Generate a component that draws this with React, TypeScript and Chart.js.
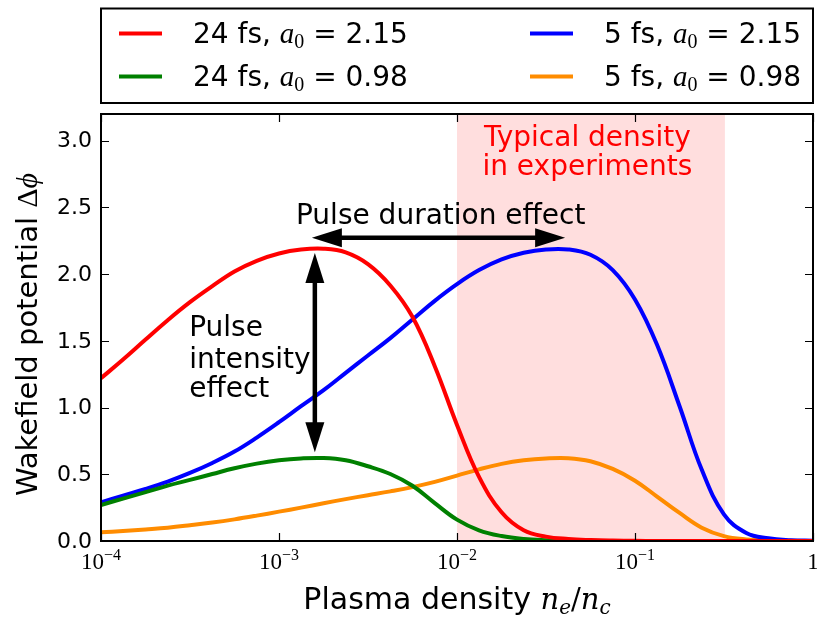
import React, { useEffect, useRef } from "react";
import { Chart, registerables } from "chart.js";

Chart.register(...registerables);

// ---------- data ----------
const densities = [
  1.0e-4, 1.33e-4, 1.78e-4, 2.37e-4, 3.16e-4, 4.22e-4, 5.62e-4, 7.5e-4,
  1.0e-3, 1.33e-3, 1.78e-3, 2.37e-3, 3.16e-3, 4.22e-3, 5.62e-3, 7.5e-3,
  1.0e-2, 1.33e-2, 1.78e-2, 2.37e-2, 3.16e-2, 4.22e-2, 5.62e-2, 7.5e-2,
  0.1, 0.133, 0.178, 0.237, 0.316, 0.422, 0.562, 0.75, 1.0,
];

const red24High = [
  1.22, 1.36, 1.51, 1.655, 1.79, 1.91, 2.02, 2.1,
  2.155, 2.184, 2.19, 2.163, 2.075, 1.915, 1.68, 1.31,
  0.87, 0.48, 0.215, 0.08, 0.033, 0.015, 0.007, 0.003,
  0.001, 0, 0, 0, 0, 0, 0, 0, 0,
];

const green24Low = [
  0.27, 0.318, 0.366, 0.415, 0.458, 0.502, 0.545, 0.58,
  0.605, 0.619, 0.622, 0.605, 0.56, 0.502, 0.414, 0.284,
  0.16, 0.08, 0.037, 0.015, 0.006, 0.002, 0.001, 0,
  0, 0, 0, 0, 0, 0, 0, 0, 0,
];

const blue5High = [
  0.29, 0.34, 0.39, 0.445, 0.51, 0.585, 0.67, 0.775,
  0.89, 1.01, 1.13, 1.26, 1.39, 1.52, 1.66, 1.8,
  1.925, 2.03, 2.11, 2.16, 2.185, 2.185, 2.145, 2.03,
  1.81, 1.47, 1.01, 0.535, 0.2, 0.06, 0.02, 0.006, 0.002,
];

const orange5Low = [
  0.065, 0.075, 0.087, 0.1, 0.118, 0.138, 0.162, 0.19,
  0.22, 0.25, 0.283, 0.314, 0.343, 0.372, 0.404, 0.443,
  0.49, 0.537, 0.578, 0.605, 0.619, 0.621, 0.598, 0.54,
  0.452, 0.333, 0.21, 0.1, 0.037, 0.012, 0.004, 0.001, 0,
];

const seriesDurations = ["24 fs", "24 fs", "5 fs", "5 fs"];
const seriesA0 = ["2.15", "0.98", "2.15", "0.98"];
const seriesColors = ["#ff0000", "#008000", "#0000ff", "#ff8c00"];

const xTickValues = [1e-4, 1e-3, 1e-2, 1e-1, 1];
const xTickExponents = ["\u22124", "\u22123", "\u22122", "\u22121", ""];
const yTickValues = [0, 0.5, 1.0, 1.5, 2.0, 2.5, 3.0];
const yTickLabels = ["0.0", "0.5", "1.0", "1.5", "2.0", "2.5", "3.0"];

const shadedRange = [1e-2, 0.32];
const shadedText = ["Typical density", "in experiments"];
const shadedTextPos = { x: 0.054, y: [2.96, 2.74] };

const durationText = "Pulse duration effect";
const durationTextPos = { x: 8.1e-3, y: 2.375 };
const durationArrow = { x1: 1.53e-3, x2: 4.05e-2, y: 2.272 };

const intensityText = ["Pulse", "intensity", "effect"];
const intensityTextPos = { x: 3.13e-4, y: [1.54, 1.3, 1.08] };
const intensityArrow = { x: 1.59e-3, y1: 2.159, y2: 0.666 };

const SANS = "'DejaVu Sans', sans-serif";
const SERIF = "'Liberation Serif', 'DejaVu Serif', serif";
const MATH = "'DejaVu Serif', 'Liberation Serif', serif";

function drawDoubleArrow(ctx: CanvasRenderingContext2D, x1: number, y1: number, x2: number, y2: number) {
  const headLen = 30;
  const headHalf = 9.5;
  const dx = x2 - x1;
  const dy = y2 - y1;
  const len = Math.hypot(dx, dy);
  const ux = dx / len;
  const uy = dy / len;
  const px = -uy;
  const py = ux;
  ctx.save();
  ctx.strokeStyle = "#000";
  ctx.fillStyle = "#000";
  ctx.lineWidth = 4.5;
  ctx.beginPath();
  ctx.moveTo(x1 + ux * (headLen - 2), y1 + uy * (headLen - 2));
  ctx.lineTo(x2 - ux * (headLen - 2), y2 - uy * (headLen - 2));
  ctx.stroke();
  const head = (tx: number, ty: number, dirx: number, diry: number) => {
    const bx = tx - dirx * headLen;
    const by = ty - diry * headLen;
    ctx.beginPath();
    ctx.moveTo(tx, ty);
    ctx.lineTo(bx + px * headHalf, by + py * headHalf);
    ctx.lineTo(bx - px * headHalf, by - py * headHalf);
    ctx.closePath();
    ctx.fill();
  };
  head(x2, y2, ux, uy);
  head(x1, y1, -ux, -uy);
  ctx.restore();
}

type Run = { text: string; font: string; dy?: number };
function runsWidth(ctx: CanvasRenderingContext2D, runs: Run[]) {
  let w = 0;
  for (const r of runs) {
    ctx.font = r.font;
    w += ctx.measureText(r.text).width;
  }
  return w;
}
function drawRuns(ctx: CanvasRenderingContext2D, runs: Run[], x: number, y: number) {
  let cx = x;
  for (const r of runs) {
    ctx.font = r.font;
    ctx.fillText(r.text, cx, y + (r.dy || 0));
    cx += ctx.measureText(r.text).width;
  }
  return cx;
}

const decorPlugin = {
  id: "decor",
  beforeDatasetsDraw(chart: any) {
    const { ctx, chartArea: a, scales } = chart;
    const x = scales.x;
    ctx.save();
    const x0 = x.getPixelForValue(shadedRange[0]);
    const x1 = x.getPixelForValue(shadedRange[1]);
    ctx.fillStyle = "rgba(255,0,0,0.13)";
    ctx.fillRect(x0, a.top, x1 - x0, a.bottom - a.top);
    ctx.restore();
  },
  afterDatasetsDraw(chart: any) {
    const { ctx, chartArea: a, scales } = chart;
    const xs = scales.x;
    const ys = scales.y;
    ctx.save();

    // annotation texts
    ctx.fillStyle = "#ff0000";
    ctx.font = `28px ${SANS}`;
    ctx.textAlign = "center";
    ctx.textBaseline = "alphabetic";
    shadedText.forEach((t, i) => {
      ctx.fillText(t, xs.getPixelForValue(shadedTextPos.x), ys.getPixelForValue(shadedTextPos.y[i]));
    });
    ctx.fillStyle = "#000";
    ctx.fillText(durationText, xs.getPixelForValue(durationTextPos.x), ys.getPixelForValue(durationTextPos.y));
    ctx.textAlign = "left";
    intensityText.forEach((t, i) => {
      ctx.fillText(t, xs.getPixelForValue(intensityTextPos.x), ys.getPixelForValue(intensityTextPos.y[i]));
    });

    // arrows
    drawDoubleArrow(
      ctx,
      xs.getPixelForValue(durationArrow.x1), ys.getPixelForValue(durationArrow.y),
      xs.getPixelForValue(durationArrow.x2), ys.getPixelForValue(durationArrow.y)
    );
    drawDoubleArrow(
      ctx,
      xs.getPixelForValue(intensityArrow.x), ys.getPixelForValue(intensityArrow.y1),
      xs.getPixelForValue(intensityArrow.x), ys.getPixelForValue(intensityArrow.y2)
    );

    // frame
    ctx.strokeStyle = "#000";
    ctx.lineWidth = 2;
    ctx.strokeRect(a.left, a.top, a.right - a.left, a.bottom - a.top);

    // ticks (inside, all four sides)
    ctx.lineWidth = 1.2;
    const tl = 8;
    ctx.beginPath();
    xTickValues.forEach((v) => {
      const px = Math.round(xs.getPixelForValue(v)) + 0.5;
      ctx.moveTo(px, a.bottom);
      ctx.lineTo(px, a.bottom - tl);
      ctx.moveTo(px, a.top);
      ctx.lineTo(px, a.top + tl);
    });
    yTickValues.forEach((v) => {
      const py = Math.round(ys.getPixelForValue(v)) + 0.5;
      ctx.moveTo(a.left, py);
      ctx.lineTo(a.left + tl, py);
      ctx.moveTo(a.right, py);
      ctx.lineTo(a.right - tl, py);
    });
    ctx.stroke();

    // y tick labels
    ctx.fillStyle = "#000";
    ctx.font = `22px ${SANS}`;
    ctx.textAlign = "right";
    ctx.textBaseline = "middle";
    yTickValues.forEach((v, i) => {
      ctx.fillText(yTickLabels[i], a.left - 9, ys.getPixelForValue(v) + 1);
    });

    // x tick labels (10^n)
    ctx.textAlign = "left";
    ctx.textBaseline = "alphabetic";
    xTickValues.forEach((v, i) => {
      const exp = xTickExponents[i];
      const runs: Run[] = exp
        ? [
            { text: "10", font: `23px ${SERIF}` },
            { text: exp, font: `16px ${SERIF}`, dy: -9 },
          ]
        : [{ text: "1", font: `23px ${SERIF}` }];
      const w = runsWidth(ctx, runs);
      const px = xs.getPixelForValue(v);
      drawRuns(ctx, runs, px - w / 2, a.bottom + 28);
    });

    // x axis title
    const xRuns: Run[] = [
      { text: "Plasma density ", font: `30px ${SANS}` },
      { text: "n", font: `italic 29px ${MATH}` },
      { text: "e", font: `italic 20px ${MATH}`, dy: 5 },
      { text: "/", font: `29px ${MATH}` },
      { text: "n", font: `italic 29px ${MATH}` },
      { text: "c", font: `italic 20px ${MATH}`, dy: 5 },
    ];
    const xw = runsWidth(ctx, xRuns);
    drawRuns(ctx, xRuns, (a.left + a.right) / 2 - xw / 2, 609);

    // y axis title
    const yRuns: Run[] = [
      { text: "Wakefield potential ", font: `29px ${SANS}` },
      { text: "\u0394", font: `30px ${SERIF}` },
      { text: "\u03d5", font: `italic 30px ${SERIF}` },
    ];
    const yw = runsWidth(ctx, yRuns);
    ctx.save();
    ctx.translate(37, (a.top + a.bottom) / 2 + 7);
    ctx.rotate(-Math.PI / 2);
    drawRuns(ctx, yRuns, -yw / 2, 0);
    ctx.restore();

    // legend box
    ctx.lineWidth = 2;
    ctx.strokeStyle = "#000";
    ctx.strokeRect(a.left, 8.5, a.right - a.left, 94.5);
    const colSample = [119, 530];
    const colText = [193, 604];
    const rowY = [33.5, 76.5];
    for (let i = 0; i < 4; i++) {
      const col = Math.floor(i / 2);
      const row = i % 2;
      ctx.strokeStyle = seriesColors[i];
      ctx.lineWidth = 4;
      ctx.beginPath();
      ctx.moveTo(colSample[col], rowY[row]);
      ctx.lineTo(colSample[col] + 43, rowY[row]);
      ctx.stroke();
      ctx.fillStyle = "#000";
      drawRuns(
        ctx,
        [
          { text: `${seriesDurations[i]}, `, font: `28px ${SANS}` },
          { text: "a", font: `italic 29px ${SERIF}` },
          { text: "0", font: `20px ${SERIF}`, dy: 5 },
          { text: ` = ${seriesA0[i]}`, font: `28px ${SANS}` },
        ],
        colText[col],
        rowY[row] + 9
      );
    }

    ctx.restore();
  },
};

export default function App() {
  const canvasRef = useRef<HTMLCanvasElement | null>(null);

  useEffect(() => {
    const canvas = canvasRef.current;
    if (!canvas) return;
    const seriesValues = [red24High, green24Low, blue5High, orange5Low];
    const chart = new Chart(canvas, {
      type: "line",
      data: {
        datasets: seriesValues.map((vals, i) => ({
          label: `${seriesDurations[i]}, a0 = ${seriesA0[i]}`,
          data: densities.map((d, j) => ({ x: d, y: vals[j] })),
          borderColor: seriesColors[i],
          backgroundColor: seriesColors[i],
          borderWidth: 4,
          pointRadius: 0,
          fill: false,
          tension: 0.4,
        })),
      },
      options: {
        responsive: false,
        animation: false,
        devicePixelRatio: 1,
        layout: { padding: { left: 101, right: 4, top: 114, bottom: 80 } },
        plugins: { legend: { display: false }, tooltip: { enabled: false } },
        events: [],
        scales: {
          x: { type: "logarithmic", min: 1e-4, max: 1, display: false },
          y: { type: "linear", min: 0, max: 3.2, display: false },
        },
      },
      plugins: [decorPlugin],
    });
    return () => chart.destroy();
  }, []);

  return (
    <div style={{ position: "fixed", left: 0, top: 0, width: 817, height: 621, background: "#fff" }}>
      <canvas ref={canvasRef} width={817} height={621} style={{ display: "block" }} />
    </div>
  );
}
